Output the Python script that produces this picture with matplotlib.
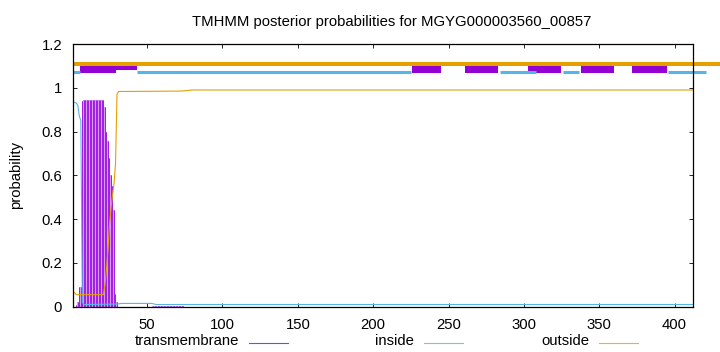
import matplotlib
matplotlib.use("Agg")
import matplotlib.pyplot as plt
from matplotlib.lines import Line2D

plt.rcParams['font.family'] = ['Liberation Sans', 'DejaVu Sans']

# --- data ---
seq_len = 412
title = "TMHMM posterior probabilities for MGYG000003560_00857"

# transmembrane posterior, drawn as impulses
tm_res = list(range(1, 31)) + list(range(54, 75))
tm_prob = [0.0, 0.0, 0.01, 0.02, 0.09, 0.09, 0.94,
           0.945, 0.945, 0.945, 0.945, 0.945, 0.945, 0.945,
           0.945, 0.945, 0.945, 0.945, 0.945, 0.945, 0.945,
           0.91, 0.80, 0.755, 0.68, 0.60, 0.55, 0.44, 0.06, 0.02,
           0.004, 0.004, 0.004, 0.005, 0.005, 0.005, 0.005,
           0.005, 0.005, 0.005, 0.005, 0.005, 0.005, 0.005,
           0.004, 0.004, 0.004, 0.004, 0.003, 0.003, 0.003]

# inside posterior (breakpoints)
in_res = [1, 2, 3, 4, 5, 6, 7, 8, 30, 33, 53, 56, 412]
in_prob = [0.935, 0.933, 0.93, 0.92, 0.87, 0.85, 0.02, 0.01, 0.012, 0.015, 0.015, 0.01, 0.01]

# outside posterior (breakpoints)
out_res = [1, 2, 3, 21, 22, 23, 24, 25, 26, 27, 28, 29, 30, 31, 73, 80, 412]
out_prob = [0.068, 0.062, 0.055, 0.055, 0.10, 0.17, 0.26, 0.37, 0.45, 0.51, 0.56,
            0.65, 0.97, 0.983, 0.985, 0.99, 0.99]

# predicted topology strip above the curves
outside_segs = [(1, 430)]
inside_segs = [(1, 5.6), (43.5, 225.4), (283.9, 307.8), (325.7, 336.3), (395.4, 420.6)]
tm_big_box = (5.6, 29.5)
tm_thin_box = (29.5, 43.5)
tm_boxes = [(226, 245), (260.6, 282.5), (302.5, 324.4), (337.7, 359.6), (372, 395)]

c_tm = '#9400D3'
c_tm_light = '#d79cf0'
c_in = '#56B4E9'
c_out = '#E69F00'

fig = plt.figure(figsize=(7.2, 3.52), dpi=100)
ax = fig.add_axes([73.3 / 720, 1 - 306.7 / 352, (692.7 - 73.3) / 720, (306.7 - 44) / 352])

# impulses: light fill between residues, darker line on each residue
ax.bar(tm_res, tm_prob, width=1.0, color=c_tm_light, linewidth=0)
ax.vlines(tm_res, 0, tm_prob, color='#a21ee0', linewidth=0.7)
ax.plot(in_res, in_prob, color=c_in, linewidth=0.8)
ax.plot(out_res, out_prob, color=c_out, linewidth=0.8)

for a, b in outside_segs:
    ax.plot([a, b], [1.11, 1.11], color=c_out, linewidth=2.9, clip_on=False,
            solid_capstyle='butt')
for a, b in inside_segs:
    ax.plot([a, b], [1.072, 1.072], color=c_in, linewidth=2.2, clip_on=False,
            solid_capstyle='butt')
ax.fill_between(tm_big_box, 1.068, 1.114, color=c_tm, linewidth=0, clip_on=False)
ax.fill_between(tm_thin_box, 1.08, 1.10, color=c_tm, linewidth=0, clip_on=False)
for a, b in tm_boxes:
    ax.fill_between((a, b), 1.068, 1.102, color=c_tm, linewidth=0, clip_on=False)

ax.set_xlim(1, seq_len)
ax.set_ylim(0, 1.2)
ax.set_xticks([50, 100, 150, 200, 250, 300, 350, 400])
ax.set_yticks([0, 0.2, 0.4, 0.6, 0.8, 1.0, 1.2])
ax.set_yticklabels(['0', '0.2', '0.4', '0.6', '0.8', '1', '1.2'])
ax.tick_params(direction='in', length=3, width=0.6, labelsize=10.7,
               top=True, right=True, pad=8)
for s in ax.spines.values():
    s.set_linewidth(0.9)

fig.text(16 / 720, 1 - 175 / 352, 'probability', rotation=90,
         ha='center', va='center', fontsize=10.7)
fig.text(392 / 720, 1 - 22 / 352, title, ha='center', va='center', fontsize=10.7)

# legend along the bottom
legend_items = [('transmembrane', c_tm, 239, 249, 288),
                ('inside', c_in, 414, 424, 463),
                ('outside', c_out, 589, 599, 638)]
for label, col, tx, x0, x1 in legend_items:
    fig.text(tx / 720, 1 - 341 / 352, label, ha='right', va='center', fontsize=10.7)
    fig.add_artist(Line2D([x0 / 720, x1 / 720], [1 - 343 / 352, 1 - 343 / 352],
                          color=col, linewidth=0.8, alpha=0.8,
                          transform=fig.transFigure))

fig.savefig('out.png', dpi=100)
